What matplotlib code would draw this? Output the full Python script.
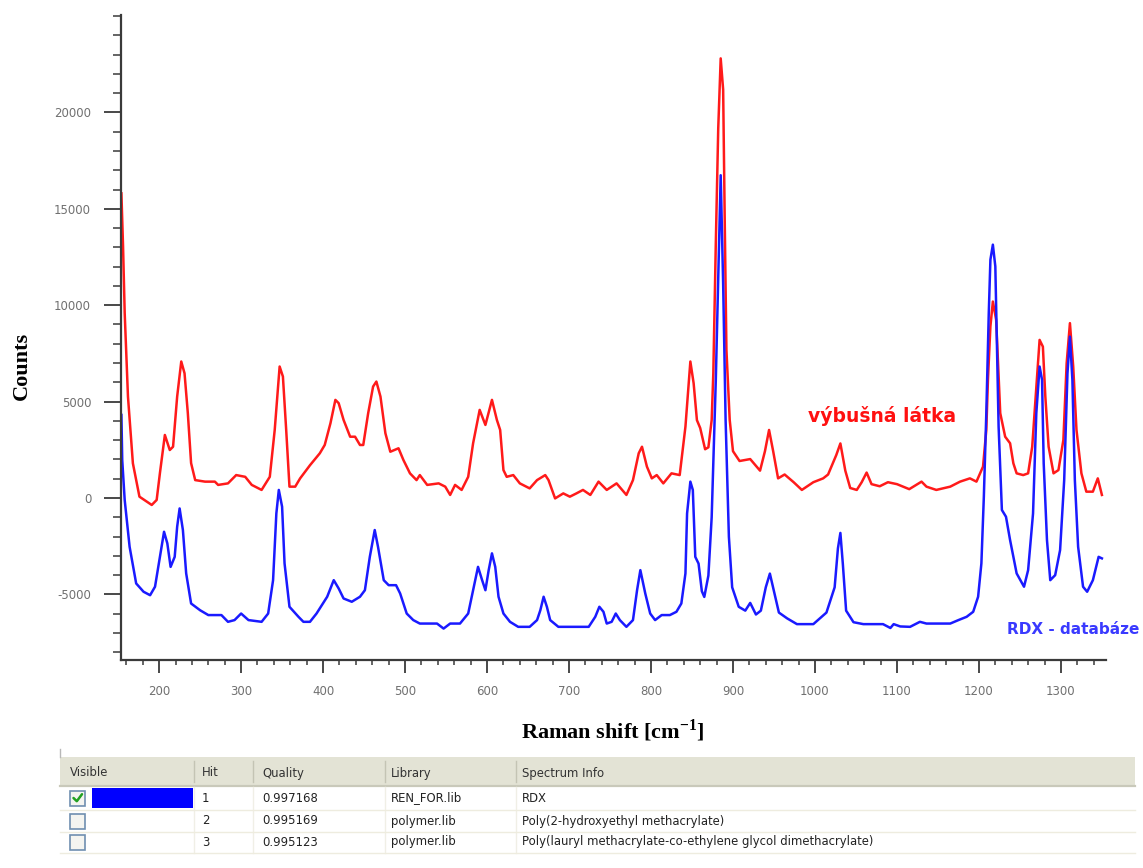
import matplotlib
matplotlib.use("Agg")
import matplotlib.pyplot as plt
from matplotlib.ticker import MultipleLocator, FixedLocator
from matplotlib.patches import Rectangle
from matplotlib.lines import Line2D

plt.rcParams['axes.unicode_minus'] = False

# Measured sample spectrum (red)
sample_shift = [154, 156, 158, 162, 168, 176, 191, 197, 201, 207, 213, 217, 222, 227, 231, 235,
                239, 244, 256, 268, 272, 284, 294, 305, 313, 325, 335, 341, 347, 351, 355, 359,
                366, 372, 384, 396, 402, 409, 415, 419, 425, 433, 439, 445, 449, 455, 461, 465,
                470, 476, 482, 492, 498, 506, 514, 518, 527, 541, 549, 555, 561, 569, 577, 583,
                591, 598, 606, 612, 616, 620, 624, 632, 640, 652, 661, 671, 675, 683, 693, 701,
                709, 717, 726, 736, 746, 758, 770, 778, 785, 789, 795, 801, 807, 815, 825, 835,
                842, 848, 852, 856, 860, 866, 870, 874, 876, 879, 882, 885, 888, 890, 892, 896,
                900, 908, 921, 933, 939, 944, 949, 955, 963, 974, 984, 998, 1010, 1016, 1026, 1031,
                1037, 1043, 1051, 1057, 1063, 1069, 1079, 1089, 1100, 1115, 1130, 1136, 1148, 1165,
                1177, 1189, 1197, 1205, 1209, 1211, 1214, 1217, 1221, 1226, 1232, 1238, 1242, 1246,
                1254, 1260, 1265, 1270, 1274, 1278, 1281, 1285, 1291, 1297, 1303, 1307, 1311, 1315,
                1319, 1325, 1331, 1339, 1345, 1350]
sample_counts = [15800, 13050, 9600, 5260, 1800, 70, -360, -100, 1300, 3270, 2490, 2660, 5260, 7080, 6470, 4410,
                 1810, 930, 850, 850, 680, 760, 1190, 1100, 680, 420, 1100, 3530, 6820, 6300, 3530, 590,
                 590, 1020, 1700, 2320, 2750, 3880, 5090, 4920, 4050, 3180, 3180, 2750, 2750, 4400, 5780, 6040,
                 5260, 3360, 2400, 2580, 1970, 1280, 930, 1190, 680, 760, 590, 160, 680, 420, 1100, 2840,
                 4570, 3790, 5090, 4050, 3530, 1450, 1100, 1190, 760, 500, 930, 1190, 930, -20, 240, 70,
                 240, 420, 160, 850, 420, 760, 160, 930, 2320, 2660, 1630, 1020, 1190, 760, 1280, 1190,
                 3700, 7080, 5950, 4040, 3630, 2530, 2630, 4040, 6460, 13110, 19160, 22800, 21180, 14120, 7680, 4050,
                 2430, 1920, 2020, 1420, 2430, 3530, 2430, 1020, 1220, 820, 420, 820, 1020, 1220, 2230, 2830,
                 1420, 520, 420, 820, 1320, 720, 610, 820, 720, 460, 850, 590, 420, 590,
                 850, 1020, 850, 1630, 3530, 6130, 8900, 10190, 9240, 4400, 3180, 2840, 1800, 1280,
                 1190, 1280, 2660, 5780, 8200, 7850, 5260, 2660, 1280, 1450, 3010, 6990, 9070, 6820,
                 3530, 1280, 330, 330, 1020, 160]

# Library reference spectrum (blue)
library_shift = [154, 155, 158, 164, 172, 181, 189, 195, 201, 206, 210, 214, 219, 222, 225, 229,
                 233, 239, 250, 260, 276, 284, 292, 300, 309, 325, 333, 339, 343, 346, 350, 353,
                 359, 370, 376, 384, 392, 405, 413, 419, 425, 435, 445, 451, 457, 463, 467, 474,
                 480, 489, 494, 502, 510, 518, 539, 547, 555, 567, 577, 583, 589, 594, 598, 602,
                 606, 610, 614, 620, 628, 638, 652, 661, 665, 669, 673, 677, 687, 724, 732, 737,
                 742, 746, 752, 757, 762, 770, 778, 783, 787, 793, 799, 805, 813, 823, 831, 837,
                 842, 844, 848, 851, 854, 858, 862, 865, 870, 874, 879, 883, 885, 888, 891, 895,
                 899, 907, 915, 921, 928, 934, 940, 945, 950, 956, 966, 978, 998, 1014, 1024, 1028,
                 1031, 1034, 1038, 1047, 1059, 1083, 1092, 1096, 1104, 1116, 1128, 1136, 1165, 1175,
                 1185, 1193, 1199, 1203, 1206, 1209, 1212, 1214, 1217, 1220, 1222, 1224, 1228, 1233,
                 1238, 1246, 1255, 1260, 1266, 1270, 1274, 1277, 1279, 1283, 1287, 1293, 1299, 1304,
                 1308, 1311, 1314, 1317, 1321, 1327, 1332, 1339, 1346, 1350]
library_counts = [4310, 1970, -100, -2530, -4430, -4860, -5040, -4600, -3050, -1750, -2350, -3570, -3050, -1490, -540, -1660,
                  -3910, -5470, -5820, -6070, -6070, -6420, -6330, -5990, -6330, -6420, -5990, -4260, -800, 420, -450, -3390,
                  -5640, -6160, -6420, -6420, -5990, -5120, -4260, -4690, -5210, -5380, -5120, -4780, -3050, -1660, -2530, -4260,
                  -4520, -4520, -4950, -5990, -6330, -6510, -6510, -6770, -6510, -6510, -5990, -4780, -3570, -4260, -4780, -3740,
                  -2870, -3570, -5120, -5990, -6420, -6680, -6680, -6330, -5820, -5120, -5640, -6330, -6680, -6680, -6160, -5640,
                  -5900, -6510, -6420, -5990, -6330, -6680, -6330, -4780, -3740, -4950, -5990, -6330, -6070, -6070, -5900, -5470,
                  -3910, -800, 850, 420, -3050, -3400, -4830, -5130, -4020, -1000, 6060, 13110, 16740, 11100, 4040, -2010,
                  -4630, -5640, -5840, -5440, -6040, -5840, -4630, -3920, -4830, -5940, -6240, -6540, -6540, -5940, -4630, -2610,
                  -1810, -3420, -5840, -6440, -6540, -6540, -6740, -6540, -6660, -6680, -6420, -6510, -6510, -6330,
                  -6160, -5900, -5120, -3390, 70, 4400, 9590, 12360, 13140, 12010, 7850, 3700, -620, -970,
                  -2180, -3910, -4600, -3740, -800, 4400, 6820, 6130, 1800, -2180, -4260, -4000, -2700, 930,
                  6470, 8370, 6130, 930, -2530, -4600, -4860, -4260, -3050, -3130]

x_ticks = [200, 300, 400, 500, 600, 700, 800, 900, 1000, 1100, 1200, 1300]
y_ticks = [-5000, 0, 5000, 10000, 15000, 20000]

sample_label = "výbušná látka"
library_label = "RDX - databáze"

table_header = ["Visible", "Hit", "Quality", "Library", "Spectrum Info"]
hit_visible = [True, False, False]
hit_numbers = ["1", "2", "3"]
hit_quality = ["0.997168", "0.995169", "0.995123"]
hit_library = ["REN_FOR.lib", "polymer.lib", "polymer.lib"]
hit_info = ["RDX",
            "Poly(2-hydroxyethyl methacrylate)",
            "Poly(lauryl methacrylate-co-ethylene glycol dimethacrylate)"]

W, H = 1143, 868
fig = plt.figure(figsize=(W / 100, H / 100), dpi=100)

# ---- spectrum panel ----
ax = fig.add_axes([121 / W, 1 - 660 / H, 985 / W, 645 / H])
ax.plot(sample_shift, sample_counts, color="#ff1a1a", lw=1.8, solid_joinstyle="round")
ax.plot(library_shift, library_counts, color="#1a1aff", lw=1.8, solid_joinstyle="round")
ax.set_xlim(153.5, 1355)
ax.set_ylim(-8400, 25050)

for side in ("top", "right"):
    ax.spines[side].set_visible(False)
for side in ("left", "bottom"):
    ax.spines[side].set_color("#3a3a3a")
    ax.spines[side].set_linewidth(1.6)

ax.xaxis.set_major_locator(FixedLocator(x_ticks))
ax.xaxis.set_minor_locator(MultipleLocator(20))
ax.yaxis.set_major_locator(FixedLocator(y_ticks))
ax.yaxis.set_minor_locator(MultipleLocator(1000))
ax.tick_params(axis="y", which="major", length=12, width=1.3, color="#3a3a3a",
               labelsize=8.5, labelcolor="#707070", pad=9.5)
ax.tick_params(axis="y", which="minor", length=5.5, width=1.1, color="#3a3a3a")
ax.tick_params(axis="x", which="major", length=9.5, width=1.3, color="#3a3a3a",
               labelsize=8.5, labelcolor="#707070", pad=8.5)
ax.tick_params(axis="x", which="minor", length=3.5, width=1.1, color="#3a3a3a")

fig.text(613 / W, 1 - 731 / H, "Raman shift [cm$^{\\mathregular{-1}}$]",
         family="Liberation Serif", weight="bold", fontsize=16, ha="center", va="center")
fig.text(22 / W, 1 - 366 / H, "Counts", family="Liberation Serif", weight="bold",
         fontsize=16, rotation=90, ha="center", va="center")

fig.text(808 / W, 1 - 416 / H, sample_label, color="#ff1010", weight="bold",
         fontsize=13.5, ha="left", va="center", family="DejaVu Sans")
fig.text(1007 / W, 1 - 630 / H, library_label, color="#3a3aff", weight="bold",
         fontsize=11, ha="left", va="center", family="DejaVu Sans")

# ---- hit list table (pixel coordinates) ----
tab = fig.add_axes([0, 0, 1, 1], zorder=-1)
tab.set_xlim(0, W)
tab.set_ylim(H, 0)
tab.axis("off")

tab.add_patch(Rectangle((60, 757), 1075, 28, facecolor="#e3e3d5", edgecolor="none"))
tab.add_line(Line2D([60, 1135], [785.5, 785.5], color="#c9c9ba", lw=1.6))
tab.add_line(Line2D([60, 60], [749, 757], color="#b8b8b8", lw=1.0))

col_sep = [194, 253, 385, 516]
col_text = [70, 202, 262, 391, 522]
for xs in col_sep:
    tab.add_line(Line2D([xs, xs], [761, 782], color="#c4c4b4", lw=1.0))
    tab.add_line(Line2D([xs, xs], [787, 853], color="#f0efe6", lw=1.0))
for xt, name in zip(col_text, table_header):
    tab.text(xt, 773, name, fontsize=8.4, color="#333333", ha="left", va="center",
             family="DejaVu Sans")

row_y = [798, 821, 842]
for yl in (809.5, 831.5, 853):
    tab.add_line(Line2D([60, 1135], [yl, yl], color="#eeecdf", lw=1.0))

for yc, vis, num, q, lib, info in zip(row_y, hit_visible, hit_numbers,
                                      hit_quality, hit_library, hit_info):
    tab.add_patch(Rectangle((70, yc - 7.5), 15, 15, facecolor="#f4f4f0",
                            edgecolor="#6f8fb0", lw=1.2))
    if vis:
        tab.add_line(Line2D([73.5, 76.8, 82], [yc, yc + 3.2, yc - 3.8],
                            color="#22a022", lw=1.8, solid_capstyle="round"))
        tab.add_patch(Rectangle((92, 788), 101, 20, facecolor="#0000ff", edgecolor="none"))
    for xt, s in zip(col_text[1:], (num, q, lib, info)):
        tab.text(xt, yc, s, fontsize=8.4, color="#222222", ha="left", va="center",
                 family="DejaVu Sans")

fig.savefig("out.png", dpi=100, facecolor="white")
